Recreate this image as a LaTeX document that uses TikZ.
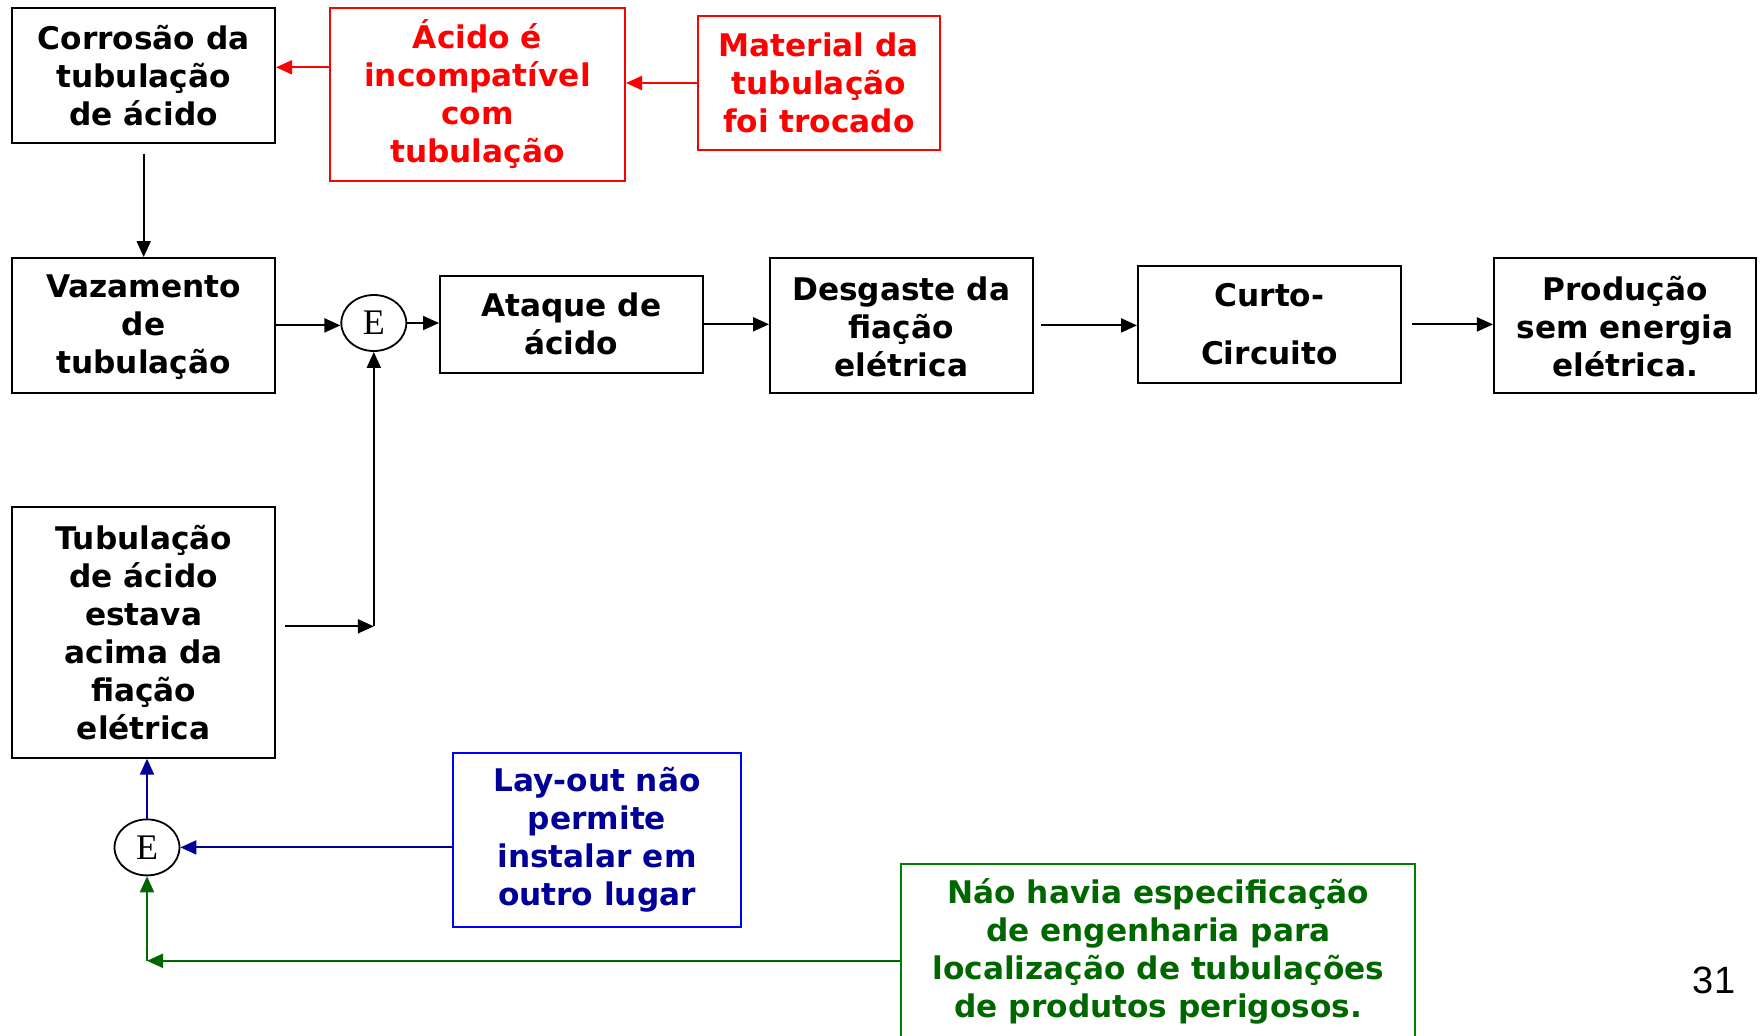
\documentclass[tikz,border=0pt]{standalone}
\usepackage{fontspec}
\setmainfont{DejaVu Sans}
\newfontfamily\serifE{Liberation Serif}
\newfontfamily\numfont{Liberation Sans}
\usetikzlibrary{shapes.geometric,arrows.meta}
\definecolor{myred}{RGB}{255,0,0}
\definecolor{navy}{RGB}{0,0,153}
\definecolor{bborder}{RGB}{0,0,255}
\definecolor{dgreen}{RGB}{0,102,0}
\definecolor{gborder}{RGB}{0,128,0}
\tikzset{
  box/.style={draw, line width=1pt, align=center, inner sep=0pt, font=\fontsize{15.6}{19}\selectfont\bfseries},
  ell/.style={draw, ellipse, line width=0.9pt, minimum width=32.5pt, minimum height=28pt, inner sep=0pt, font=\fontsize{18}{20}\selectfont\serifE},
  tip/.style={-{Triangle[length=8pt,width=7pt]}},
  arr/.style={tip, line width=1pt, black},
  rarr/.style={tip, line width=1pt, myred},
  barr/.style={tip, line width=1pt, navy},
  garr/.style={tip, line width=1pt, dgreen},
}
\begin{document}
\begin{tikzpicture}[x=0.5pt,y=-0.5pt]
\useasboundingbox (0,0) rectangle (1760,1035);
% top row
\node[box, minimum width=131.35pt, minimum height=67.35pt] (A) at (143.7,75.2) {Corrosão da\\tubulação\\de ácido};
\node[box, draw=myred, text=myred, minimum width=147.5pt, minimum height=86.4pt] (B) at (477.5,94.3) {Ácido é\\incompatível\\com\\tubulação};
\node[box, draw=myred, text=myred, minimum width=120.7pt, minimum height=67.35pt] (C) at (818.8,83) {Material da\\tubulação\\foi trocado};
% middle row
\node[box, minimum width=131.35pt, minimum height=67.35pt] (D) at (143.7,325.4) {\strut Vazamento\\de\\tubulação};
\node[ell] (E1) at (373.8,323) {E};
\node[box, minimum width=131.3pt, minimum height=48.3pt] (F) at (571.3,324.3) {Ataque de\\ácido};
\node[box, minimum width=131.3pt, minimum height=67.35pt] (G) at (901.3,325.4) {\strut Desgaste da\\fiação\\elétrica};
\node[box, minimum width=131.4pt, minimum height=58.35pt] (H) at (1269.4,324.4) {Curto-\\[10pt]Circuito};
\node[box, minimum width=131.25pt, minimum height=67.35pt] (I) at (1625.2,325.4) {\strut Produção\\sem energia\\elétrica.};
% lower left
\node[box, minimum width=131.35pt, minimum height=125.15pt] (J) at (143.7,632.5) {Tubulação\\de ácido\\estava\\acima da\\fiação\\elétrica};
\node[ell] (E2) at (147,847.4) {E};
\node[box, draw=bborder, text=navy, minimum width=143.65pt, minimum height=87pt] (K) at (597,840) {Lay-out não\\permite\\instalar em\\outro lugar};
\node[box, draw=gborder, text=dgreen, minimum width=257pt, minimum height=87.8pt] (L) at (1158.3,951.8) {Náo havia especificação\\de engenharia para\\localização de tubulações\\de produtos perigosos.};
\node[font=\fontsize{19}{22}\selectfont\numfont] (N) at (1714,980) {31};
% coordinates
\coordinate (ba) at (330,67.3);
\coordinate (ks) at (285,626.3);
\coordinate (k) at (373.8,626.3);
\coordinate (g) at (147,960.8);
% connectors
\draw[rarr] (C.west) -- (C.west -| B.east);
\draw[rarr] (ba) -- (ba -| A.east);
\draw[arr] ([yshift=-5pt]A.south) -- (D.north);
\draw[arr] (D.east) -- (D.east -| E1.west);
\draw[arr] (E1.east) -- (E1.east -| F.west);
\draw[arr] (F.east) -- (F.east -| G.west);
\draw[arr] ([xshift=3.5pt]G.east) -- (G.east -| H.west);
\draw[arr] ([xshift=5pt]H.east) -- (H.east -| I.west);
\draw[arr] (ks) -- (k);
\draw[arr] (k) -- (E1.south);
\draw[barr] (E2.north) -- (E2.north |- J.south);
\draw[barr] (K.west |- E2) -- (E2.east);
\draw[garr] (L.west |- g) -- (g);
\draw[garr] (g) -- (E2.south);
\end{tikzpicture}
\end{document}
